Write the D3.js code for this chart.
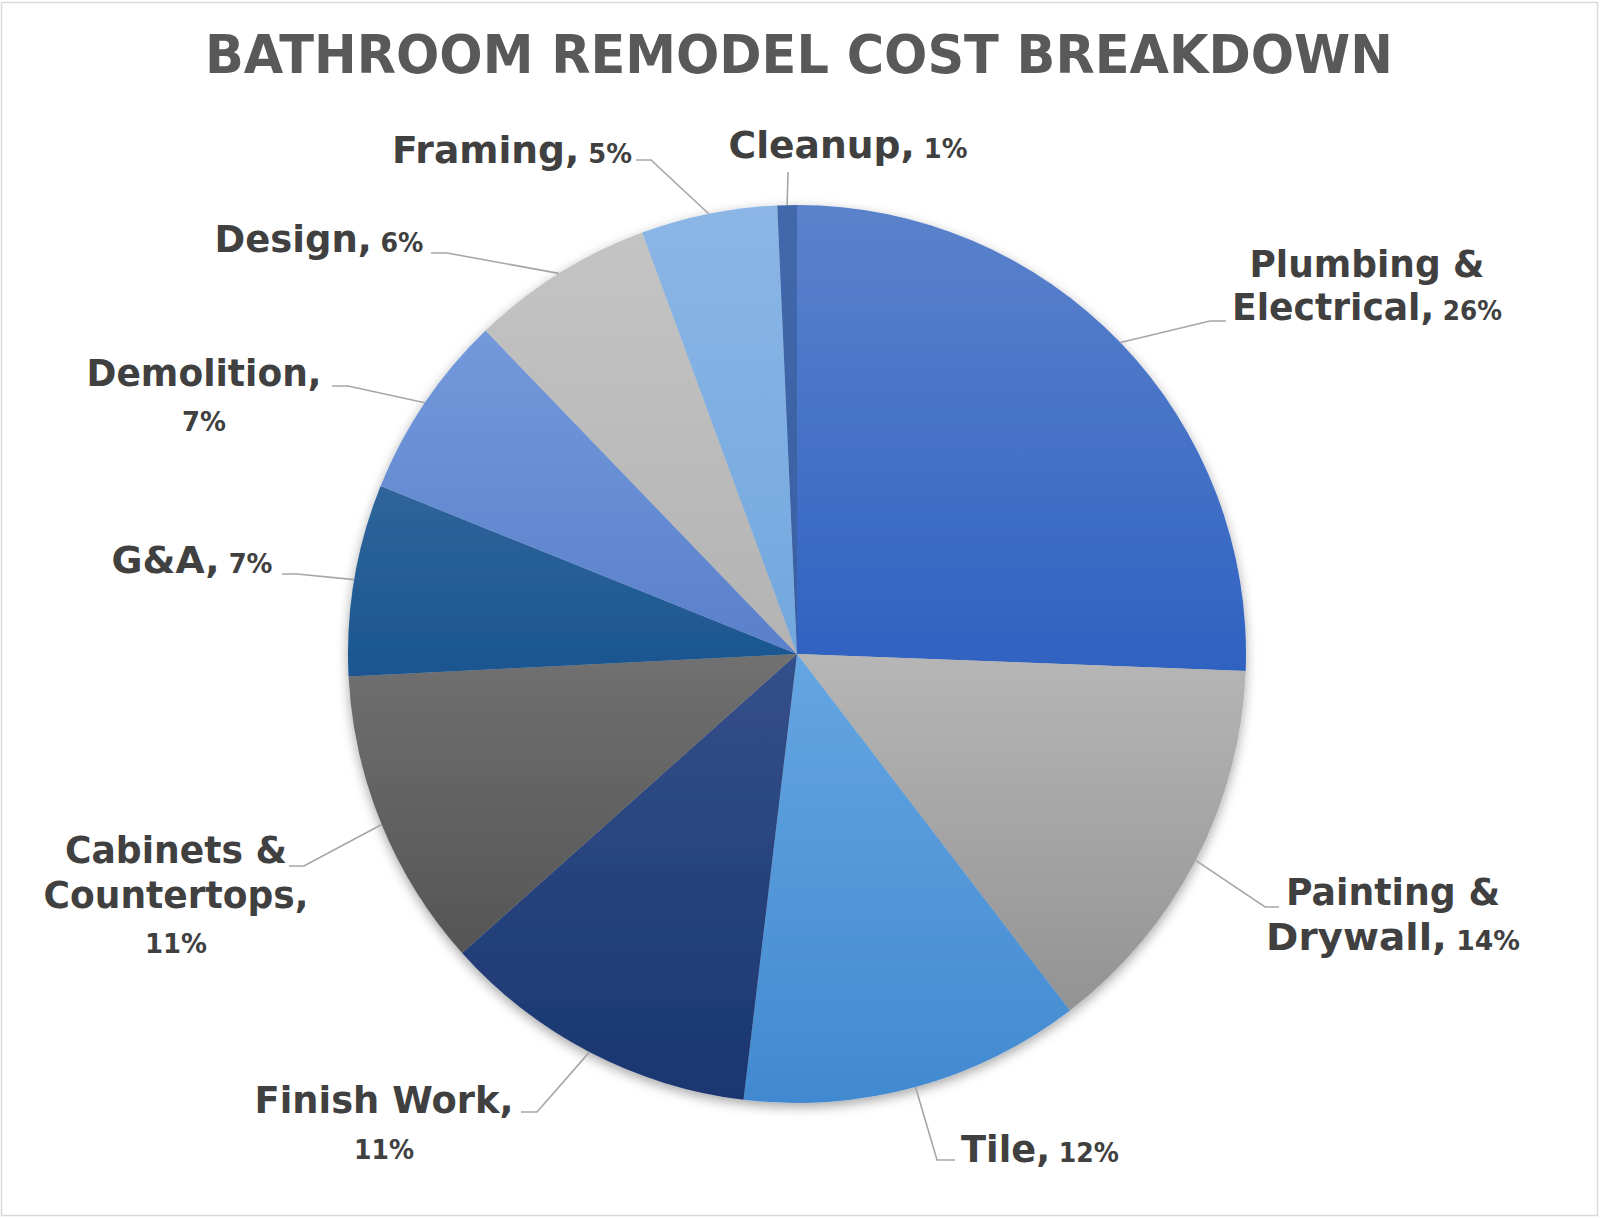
<!DOCTYPE html>
<html><head><meta charset="utf-8">
<script src="https://cdn.jsdelivr.net/npm/d3@7"></script>
<style>html,body{margin:0;padding:0;background:#fff;} svg{display:block;}</style>
</head><body>
<svg id="chart" width="1600" height="1219"></svg>
<script>
// ---- data ----
const chartTitle = "BATHROOM REMODEL COST BREAKDOWN";
const categories = ["Plumbing & Electrical","Painting & Drywall","Tile","Finish Work","Cabinets & Countertops","G&A","Demolition","Design","Framing","Cleanup"];
const values = [25.6,14.0,12.3,11.5,10.8,6.9,6.7,6.6,4.9,0.7];
const percentLabels = ["26%","14%","12%","11%","11%","7%","7%","6%","5%","1%"];

// ---- styles ----
const colorsTop    = ["#5b82cc","#b6b6b6","#65a6e2","#34508a","#707070","#2f6599","#7399db","#c4c4c4","#8bb6e6","#4068ab"];
const colorsBottom = ["#2f62c1","#939393","#4189d0","#1a3670","#555555","#1b5590","#5a80cc","#b3b3b3","#72a8de","#3a60a3"];

// ---- label layout ----
const labelLines = [
  ["Plumbing &","Electrical,{p}"],
  ["Painting &","Drywall,{p}"],
  ["Tile,{p}"],
  ["Finish Work,","{p}"],
  ["Cabinets &","Countertops,","{p}"],
  ["G&A,{p}"],
  ["Demolition,","{p}"],
  ["Design,{p}"],
  ["Framing,{p}"],
  ["Cleanup,{p}"]
];
const labelCx = [1367,1393,1040,384,176,192,204,319,512,848];
const labelBaselines = [[277,320],[905,950],[1162],[1113,1159],[863,908,953],[573],[386,431],[252],[163],[158]];
const labelWidths = [[235,270],[214,254],[158],[259,60],[222,265,62],[161],[235,44],[209],[240],[239]];
const leaderElbow = [[1210,321],[1265,907],[937,1160],[537,1112],[304,866],[297,574],[348,386],[447,253],[651,160],[788,174]];
const leaderEnd   = [[1226,321],[1279,907],[955,1160],[521,1112],[289,866],[282,574],[332,386],[431,253],[636,160],[788,172]];

const W = 1600, H = 1219;
const cx = 797, cy = 654, R = 449;
const svg = d3.select("#chart");
const defs = svg.append("defs");

// border
svg.append("rect").attr("x",1.5).attr("y",2.5).attr("width",W-4).attr("height",H-6)
  .attr("fill","#fff").attr("stroke","#d9d9d9").attr("stroke-width",1.5);

// title
svg.append("text").attr("x",799).attr("y",73).attr("text-anchor","middle")
  .attr("font-family","'DejaVu Sans', sans-serif").attr("font-weight","bold")
  .attr("font-size",54).attr("fill","#595959")
  .attr("textLength",1188).attr("lengthAdjust","spacingAndGlyphs")
  .text(chartTitle);

// shadow filter
const f = defs.append("filter").attr("id","shadow").attr("x","-20%").attr("y","-20%").attr("width","140%").attr("height","140%");
f.append("feDropShadow").attr("dx",0).attr("dy",4).attr("stdDeviation",6)
  .attr("flood-color","#000").attr("flood-opacity",0.35);

// gradients
values.forEach((v,i)=>{
  const g = defs.append("linearGradient").attr("id","grad"+i)
    .attr("x1",0).attr("y1",0).attr("x2",0).attr("y2",1);
  g.append("stop").attr("offset","0%").attr("stop-color",colorsTop[i]);
  g.append("stop").attr("offset","100%").attr("stop-color",colorsBottom[i]);
});

const pie = d3.pie().sort(null).value(d=>d).startAngle(0).endAngle(2*Math.PI);
const arcs = pie(values);
const arc = d3.arc().innerRadius(0).outerRadius(R);
const edgeArc = d3.arc().innerRadius(R).outerRadius(R);

const gPie = svg.append("g").attr("transform",`translate(${cx},${cy})`).attr("filter","url(#shadow)");
gPie.selectAll("path").data(arcs).join("path")
  .attr("d",arc)
  .attr("fill",(d,i)=>`url(#grad${i})`);

// leader lines
const gLead = svg.append("g");
arcs.forEach((d,i)=>{
  const c = edgeArc.centroid(d);
  const pts = [[cx+c[0], cy+c[1]], leaderElbow[i], leaderEnd[i]];
  gLead.append("path").attr("d", d3.line()(pts))
    .attr("fill","none").attr("stroke","#a6a6a6").attr("stroke-width",1.6);
});

// labels
const gLab = svg.append("g").attr("font-family","'DejaVu Sans', sans-serif")
  .attr("font-weight","bold").attr("fill","#404040");
labelLines.forEach((lines,i)=>{
  lines.forEach((ln,j)=>{
    const t = gLab.append("text").attr("x",0).attr("y",0).attr("text-anchor","middle");
    const parts = ln.split("{p}");
    if (parts[0].length) t.append("tspan").attr("font-size",38).text(parts[0]);
    if (ln.includes("{p}")) {
      t.append("tspan").attr("font-size",26).text((parts[0].length?"\u00a0":"") + percentLabels[i]);
    }
    const w = t.node().getComputedTextLength();
    const s = labelWidths[i][j] / w;
    t.attr("transform",`translate(${labelCx[i]},${labelBaselines[i][j]}) scale(${s},1)`);
  });
});
</script>
</body></html>
